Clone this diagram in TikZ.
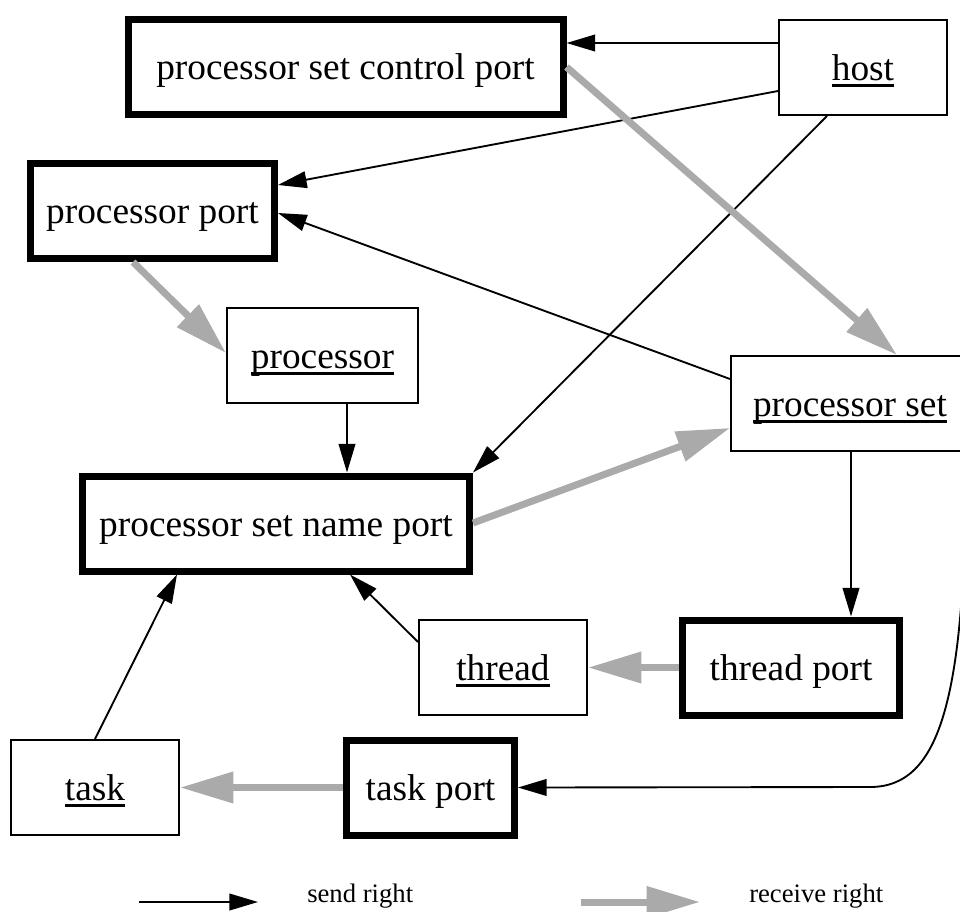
\documentclass[tikz,border=0pt]{standalone}
\usepackage{fontspec}
\setmainfont{Liberation Serif}
\usetikzlibrary{arrows.meta,calc}
\definecolor{rgray}{RGB}{170,170,170}
\newsavebox\ulbox
\newcommand\uln[1]{\sbox\ulbox{#1}\rlap{\raisebox{-5.5pt}{\rule{\wd\ulbox}{2.2pt}}}\usebox\ulbox}
\begin{document}
\begin{tikzpicture}[x=0.75pt,y=-0.75pt,
  box/.style={draw, line width=1.5pt, minimum height=71.25pt, inner sep=0pt,
    font=\fontsize{28}{34}\selectfont, text height=24.8pt, text depth=6pt},
  portbox/.style={box, line width=5.25pt},
  send/.style={line width=1.4pt, -{Triangle[length=21.5pt,width=12.5pt]}},
  recv/.style={color=rgray, line width=5.25pt, -{Triangle[length=40pt,width=22.5pt]}},
  legend/.style={anchor=base west, inner sep=0pt, font=\fontsize{20}{24}\selectfont}]
\useasboundingbox (0,0) rectangle (960,911);
% nodes
\node[portbox, minimum width=326.25pt] (psc) at (345.5,67) {processor set control port};
\node[box, minimum width=126pt] (host) at (863,67.5) {\uln{host}};
\node[portbox, minimum width=183pt] (pport) at (152.5,211) {processor port};
\node[box, minimum width=143.25pt] (proc) at (322.5,355.5) {\uln{processor}};
\node[box, minimum width=178.5pt] (pset) at (850,403.5) {\uln{processor set}};
\node[portbox, minimum width=290.25pt] (psnp) at (276,523.5) {processor set name port};
\node[box, minimum width=126pt] (thread) at (503,667.5) {\uln{thread}};
\node[portbox, minimum width=162.75pt] (tport) at (791,667.5) {thread port};
\node[box, minimum width=126pt] (task) at (95,787.5) {\uln{task}};
\node[portbox, minimum width=126pt] (taskport) at (430.5,787.5) {task port};
% send rights
\draw[send] (host.west |- 0,43) -- (psc.east |- 0,43);
\draw[send] (host.west |- 0,91) -- (pport.east |- 0,185);
\draw[send] (host.south -| 827,0) -- (psnp.north east);
\draw[send] (pset.west |- 0,379) -- (pport.east |- 0,213);
\draw[send] (proc.south -| 347,0) -- (psnp.north -| 347,0);
\draw[send] (pset.south -| 851,0) -- (tport.north -| 851,0);
\draw[send] (thread.west |- 0,642) -- (psnp.south -| 350,0);
\draw[send] (task.north -| 95,0) -- (psnp.south -| 177,0);
\draw[send] (pset.south -| 966,0) .. controls (966,700) and (940,787) .. (870,787) -- (taskport.east);
% receive rights
\draw[recv] (psc.east |- 0,67) -- (pset.north -| 897,0);
\draw[recv] (pport.south -| 133,0) -- (proc.west |- 0,353);
\draw[recv] (psnp.east |- 0,523) -- (pset.west |- 0,428);
\draw[recv] (tport.west) -- (thread.east);
\draw[recv] (taskport.west) -- (task.east);
% legend
\coordinate (sa) at (139,902);
\coordinate (sb) at (258,902);
\coordinate (ra) at (581,902);
\coordinate (rb) at (700,902);
\draw[send] (sa) -- (sb);
\draw[recv] (ra) -- (rb);
\node[legend] (sendtxt) at (307,902) {send right};
\node[legend] (recvtxt) at (749,902) {receive right};
\end{tikzpicture}
\end{document}
